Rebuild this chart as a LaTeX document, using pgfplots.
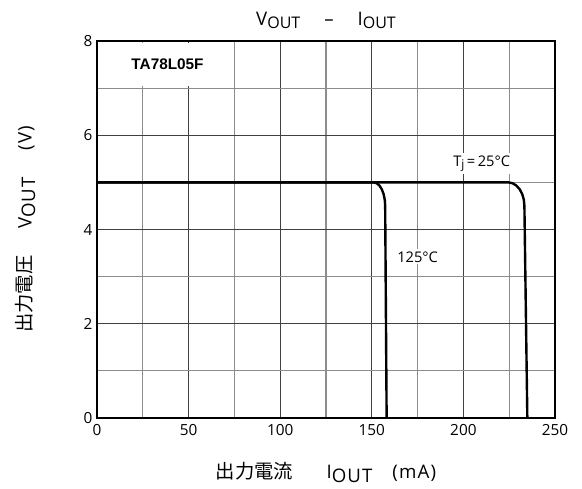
\documentclass[border=0pt]{standalone}
\usepackage{pgfplots}
\pgfplotsset{compat=1.18}
\usepackage{fontspec}
\setmainfont{Open Sans}
\newfontfamily\cjk{Noto Sans CJK JP}
\newfontfamily\arial{Liberation Sans}
\newfontfamily\lbl[LetterSpace=6]{Open Sans}
\begin{document}
\begin{tikzpicture}[x=1pt,y=1pt]
\path[use as bounding box] (-72.75,-53.25) rectangle (363.75,313.5);
\begin{axis}[
 scale only axis, width=343.5pt, height=282.75pt,
 xmin=0,xmax=250,ymin=0,ymax=8,
 xtick={0,50,...,250}, ytick={0,2,...,8},
 minor xtick={25,75,...,225}, minor ytick={1,3,5,7},
 grid=both,
 major grid style={black!75, line width=0.8pt},
 minor grid style={black!45, line width=0.8pt},
 major tick length=0pt, minor tick length=0pt,
 axis line style={line width=1.4pt},
 ticklabel style={font=\fontsize{11.5}{13}\selectfont},
 xticklabel style={yshift=-1pt},
 /pgf/number format/assume math mode=true,
 clip=false,
]
\addplot[black, line width=1.8pt] coordinates {
(0,5.0) (151,5.0) (152.63,4.983) (154.15,4.933) (155.45,4.854) (156.46,4.75) (157.09,4.629) (157.3,4.5) (158.1,0)};
\addplot[black, line width=1.8pt] coordinates {
(0,5.0) (224.5,5.0) (226.78,4.983) (228.9,4.933) (230.72,4.854) (232.12,4.75) (233.0,4.629) (233.3,4.5) (234.9,0)};
\fill[white] (axis cs:0.8,7.04) rectangle (axis cs:64,7.96);
\node[font=\arial\bfseries\fontsize{11.5}{12}\selectfont] at (axis cs:38.5,7.5) {TA78L05F};
\node[fill=white, inner sep=1.5pt, font=\fontsize{11}{13}\selectfont] at (axis cs:210,5.4) {T\raisebox{-0.35ex}{\fontsize{9}{10}\selectfont j}\,=\,25°C};
\node[fill=white, inner sep=1.5pt, font=\fontsize{11}{13}\selectfont] at (axis cs:175,3.42) {125°C};
\node[anchor=base, font=\fontsize{14}{16}\selectfont] at (rel axis cs:0.5,1) [yshift=12pt]
 {V\raisebox{-0.3ex}{\fontsize{12}{13}\selectfont OUT}\hspace{18pt}–\hspace{18pt}I\raisebox{-0.3ex}{\fontsize{12}{13}\selectfont OUT}};
\node[anchor=base, font=\lbl\fontsize{14}{15}\selectfont] at ([yshift=-45.5pt]rel axis cs:0.5,0)
 {{\cjk\fontsize{14.5}{15}\selectfont 出力電流}\hspace{25pt}I\raisebox{-0.35ex}{OUT}\hspace{15pt}(mA)};
\node[rotate=90, anchor=base, font=\lbl\fontsize{14}{15}\selectfont] at ([xshift=-49pt]rel axis cs:0,0.5)
 {{\cjk\fontsize{14.5}{15}\selectfont 出力電圧}\hspace{20pt}V\raisebox{-0.35ex}{OUT}\hspace{20pt}(V)};
\end{axis}
\end{tikzpicture}
\end{document}
